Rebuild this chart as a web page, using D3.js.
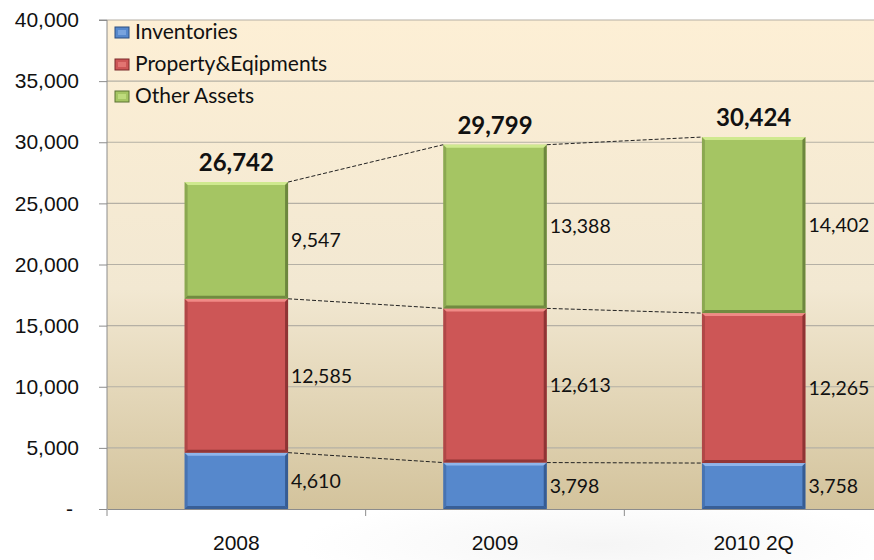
<!DOCTYPE html>
<html lang="en">
<head>
<meta charset="utf-8">
<title>Assets</title>
<style>
  html, body { margin: 0; padding: 0; background: #fff; }
  svg { display: block; font-family: Lato, 'Open Sans', sans-serif; }
</style>
</head>
<body>
<script src="https://cdn.jsdelivr.net/npm/d3@7/dist/d3.min.js"></script>
<script>
const years = ['2008', '2009', '2010 2Q']
const seriesNames = ['Inventories', 'Property&Eqipments', 'Other Assets']
const inventories = [4610, 3798, 3758]
const property = [12585, 12613, 12265]
const otherAssets = [9547, 13388, 14402]
const totals = [26742, 29799, 30424]
const yTicks = [0, 5000, 10000, 15000, 20000, 25000, 30000, 35000, 40000]

const W = 874, H = 560
const plotL = 107, plotT = 20, plotB = 509, plotR = 883
const colors = ['#5688cc', '#cd5656', '#a5c563']
const lights = ['#8fb5ea', '#f08a86', '#cfe98f']
const darks = ['#2c4e80', '#7a2a2a', '#5b7232']

const rows = years.map((y, i) => ({year: y, s0: inventories[i], s1: property[i], s2: otherAssets[i]}))
const stack = d3.stack().keys(['s0', 's1', 's2'])(rows)

const x = d3.scaleBand().domain(years).range([plotL, plotR]).paddingInner(0.6).paddingOuter(0.3)
const y = d3.scaleLinear().domain([0, 40000]).range([plotB, plotT])

const svg = d3.select('body').append('svg')
  .attr('width', W).attr('height', H)

const defs = svg.append('defs')
const bg = defs.append('linearGradient').attr('id', 'bg')
  .attr('x1', 0).attr('y1', 0).attr('x2', 0).attr('y2', 1)
bg.append('stop').attr('offset', 0).attr('stop-color', '#fdefd5')
bg.append('stop').attr('offset', 0.55).attr('stop-color', '#f2e8d2')
bg.append('stop').attr('offset', 1).attr('stop-color', '#d3c39c')

// faint backdrop bottom right
const fade = defs.append('radialGradient').attr('id', 'fade')
fade.append('stop').attr('offset', 0).attr('stop-color', '#ebebeb')
fade.append('stop').attr('offset', 1).attr('stop-color', '#fff')
svg.append('ellipse').attr('cx', 600).attr('cy', 545).attr('rx', 300).attr('ry', 50)
  .attr('fill', 'url(#fade)').attr('opacity', 0.5)

svg.append('rect')
  .attr('x', plotL).attr('y', plotT).attr('width', W - plotL).attr('height', plotB - plotT)
  .attr('fill', 'url(#bg)')

// gridlines
svg.append('g').selectAll('line')
  .data(yTicks.slice(1))
  .join('line')
  .attr('x1', plotL).attr('x2', W)
  .attr('y1', d => y(d)).attr('y2', d => y(d))
  .attr('stroke', '#b5b0a5').attr('stroke-width', 1.2)

// y axis
const yAxis = svg.append('g')
  .attr('transform', `translate(${plotL},0)`)
  .call(d3.axisLeft(y).tickValues(yTicks).tickSize(8).tickPadding(20)
    .tickFormat(d => d === 0 ? '-' : d3.format(',')(d)))
yAxis.select('.domain').attr('stroke', '#8c8c8c').attr('d', `M-8,${plotT}H0V${plotB + 7}`)
yAxis.selectAll('.tick line').attr('stroke', '#8c8c8c')
yAxis.selectAll('text').attr('font-size', 21).attr('fill', '#111')
yAxis.selectAll('.tick').filter(d => d === 0).select('text').attr('dx', -6)

// x axis
const xAxis = svg.append('g')
  .attr('transform', `translate(0,${plotB})`)
  .call(d3.axisBottom(x).tickSize(0).tickPadding(26))
xAxis.select('.domain').attr('stroke', '#8c8c8c')
xAxis.selectAll('text').attr('font-size', 21).attr('fill', '#111')
const step = x.step()
svg.append('g').selectAll('line')
  .data(years.slice(1))
  .join('line')
  .attr('x1', d => x(d) - (step - x.bandwidth()) / 2)
  .attr('x2', d => x(d) - (step - x.bandwidth()) / 2)
  .attr('y1', plotB).attr('y2', plotB + 7)
  .attr('stroke', '#8c8c8c')

// dashed connectors
stack.forEach(layer => {
  for (let i = 0; i < years.length - 1; i++) {
    svg.append('line')
      .attr('x1', x(years[i]) + x.bandwidth()).attr('y1', y(layer[i][1]))
      .attr('x2', x(years[i + 1])).attr('y2', y(layer[i + 1][1]))
      .attr('stroke', '#222').attr('stroke-width', 1).attr('stroke-dasharray', '4,2')
  }
})

// bars with bevel
const bw = x.bandwidth(), b = 3
stack.forEach((layer, k) => {
  const g = svg.append('g')
  layer.forEach((d, i) => {
    const x0 = x(years[i]), y0 = y(d[1]), h = y(d[0]) - y(d[1])
    g.append('rect').attr('x', x0).attr('y', y0).attr('width', bw).attr('height', h).attr('fill', colors[k])
    g.append('path').attr('fill', lights[k])
      .attr('d', `M${x0},${y0}H${x0 + bw}L${x0 + bw - b},${y0 + b}H${x0 + b}Z`)
    g.append('path').attr('fill', darks[k]).attr('opacity', 0.75)
      .attr('d', `M${x0 + bw},${y0}V${y0 + h}L${x0 + bw - b},${y0 + h - b}V${y0 + b}Z`)
    g.append('path').attr('fill', darks[k]).attr('opacity', 0.7)
      .attr('d', `M${x0},${y0 + h}H${x0 + bw}L${x0 + bw - b},${y0 + h - b}H${x0 + b}Z`)
    g.append('path').attr('fill', darks[k]).attr('opacity', 0.35)
      .attr('d', `M${x0},${y0}V${y0 + h}L${x0 + b},${y0 + h - b}V${y0 + b}Z`)
    g.append('text')
      .attr('x', x0 + bw + 3).attr('y', y0 + h / 2).attr('dy', '0.35em')
      .attr('font-size', 19.5).attr('fill', '#111')
      .text(d3.format(',')(d.data['s' + k]))
  })
})

// totals
svg.append('g').selectAll('text')
  .data(years)
  .join('text')
  .attr('x', d => x(d) + bw / 2)
  .attr('y', (d, i) => y(stack[2][i][1]) - 11)
  .attr('text-anchor', 'middle')
  .attr('font-size', 24).attr('font-weight', 'bold').attr('fill', '#111')
  .text((d, i) => d3.format(',')(totals[i]))

// legend
const legend = svg.append('g').attr('transform', 'translate(115,32)')
seriesNames.forEach((n, k) => {
  const g = legend.append('g').attr('transform', `translate(0,${k * 32})`)
  g.append('rect').attr('x', 0).attr('y', -5).attr('width', 14).attr('height', 11).attr('fill', colors[k])
    .attr('stroke', darks[k]).attr('stroke-width', 1)
  g.append('rect').attr('x', 3).attr('y', -2).attr('width', 8).attr('height', 5).attr('fill', lights[k]).attr('opacity', 0.6)
  g.append('text').attr('x', 20).attr('y', 0).attr('dy', '0.35em')
    .attr('font-size', 21).attr('fill', '#111').text(n)
})
</script>
</body>
</html>
